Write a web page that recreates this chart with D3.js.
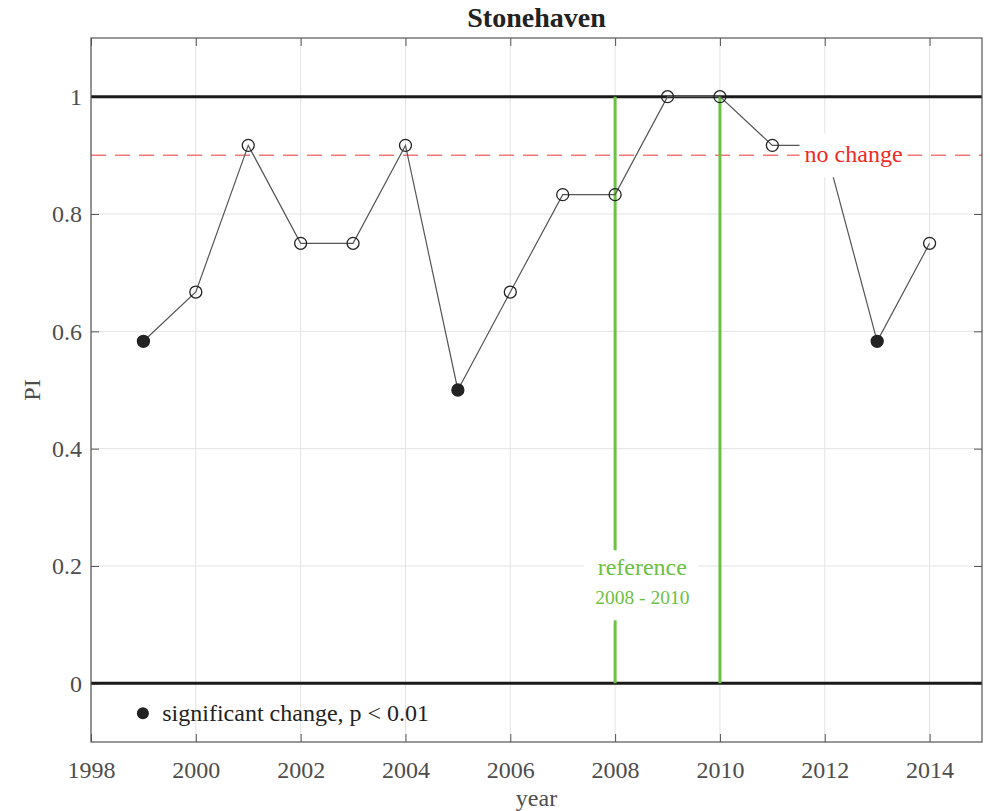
<!DOCTYPE html>
<html>
<head>
<meta charset="utf-8">
<script src="https://cdn.jsdelivr.net/npm/d3@7"></script>
<style>
  body { margin: 0; background: #fff; }
  svg text { font-family: "Liberation Serif", "DejaVu Serif", serif; }
</style>
</head>
<body>
<div id="chart"></div>
<script>
// Data.
const years = [1999, 2000, 2001, 2002, 2003, 2004, 2005, 2006, 2007, 2008, 2009, 2010, 2011, 2012, 2013, 2014];
const piValues = [0.583, 0.667, 0.917, 0.75, 0.75, 0.917, 0.5, 0.667, 0.833, 0.833, 1.0, 1.0, 0.917, 0.917, 0.583, 0.75];
const significant = [true, false, false, false, false, false, true, false, false, false, false, false, false, false, true, false];
const xTicks = [1998, 2000, 2002, 2004, 2006, 2008, 2010, 2012, 2014];
const yTicks = [0, 0.2, 0.4, 0.6, 0.8, 1];
const referenceYears = [2008, 2010];
const noChangeLevel = 0.9;

const width = 990, height = 811;
const margin = {top: 38, right: 8, bottom: 69, left: 91};
const w = width - margin.left - margin.right;
const h = height - margin.top - margin.bottom;

const svg = d3.select('#chart')
    .append('svg')
        .attr('width', width)
        .attr('height', height);
const g = svg.append('g')
    .attr('transform', `translate(${margin.left},${margin.top})`);

const x = d3.scaleLinear().domain([1998, 2015]).range([0, w]);
const y = d3.scaleLinear().domain([-0.1, 1.1]).range([h, 0]);

// Grid lines.
g.append('g').selectAll('line')
    .data(xTicks)
    .join('line')
        .attr('x1', d => x(d)).attr('x2', d => x(d))
        .attr('y1', 0).attr('y2', h)
        .attr('stroke', '#e3e3e3');
g.append('g').selectAll('line')
    .data(yTicks)
    .join('line')
        .attr('x1', 0).attr('x2', w)
        .attr('y1', d => y(d)).attr('y2', d => y(d))
        .attr('stroke', '#e3e3e3');

// Axes with inward ticks on all four sides.
const tickColor = '#555';
const axisStyle = (sel) => {
    sel.select('.domain').remove();
    sel.selectAll('line').attr('stroke', tickColor);
    sel.selectAll('text')
        .style('font-size', '24px')
        .attr('fill', '#4d4d4d');
};
g.append('g')
    .attr('transform', `translate(0,${h})`)
    .call(d3.axisBottom(x).tickValues(xTicks).tickFormat(d3.format('d')).tickSizeInner(-8).tickPadding(19))
    .call(axisStyle);
g.append('g')
    .call(d3.axisTop(x).tickValues(xTicks).tickSizeInner(-8).tickFormat(''))
    .call(axisStyle);
g.append('g')
    .call(d3.axisLeft(y).tickValues(yTicks).tickFormat(d => d).tickSizeInner(-8).tickPadding(9))
    .call(axisStyle);
g.append('g')
    .attr('transform', `translate(${w},0)`)
    .call(d3.axisRight(y).tickValues(yTicks).tickSizeInner(-8).tickFormat(''))
    .call(axisStyle);

// Reference lines at 0 and 1.
g.append('g').selectAll('line')
    .data([0, 1])
    .join('line')
        .attr('x1', 0).attr('x2', w)
        .attr('y1', d => y(d)).attr('y2', d => y(d))
        .attr('stroke', '#1a1a1a')
        .attr('stroke-width', 3);

// No-change dashed line.
g.append('line')
    .attr('x1', 0).attr('x2', w)
    .attr('y1', y(noChangeLevel)).attr('y2', y(noChangeLevel))
    .attr('stroke', '#f27878')
    .attr('stroke-width', 1.5)
    .attr('stroke-dasharray', '15,9');

// Reference period lines.
g.append('g').selectAll('line')
    .data(referenceYears)
    .join('line')
        .attr('x1', d => x(d)).attr('x2', d => x(d))
        .attr('y1', y(1)).attr('y2', y(0))
        .attr('stroke', '#6cc043')
        .attr('stroke-width', 3);

// Series line and markers.
const points = years.map((yr, i) => ({year: yr, value: piValues[i], sig: significant[i]}));
g.append('path')
    .datum(points)
    .attr('fill', 'none')
    .attr('stroke', '#555')
    .attr('stroke-width', 1.2)
    .attr('d', d3.line().x(d => x(d.year)).y(d => y(d.value)));
g.append('g').selectAll('circle')
    .data(points)
    .join('circle')
        .attr('cx', d => x(d.year))
        .attr('cy', d => y(d.value))
        .attr('r', 6)
        .attr('fill', d => d.sig ? '#222' : 'none')
        .attr('stroke', '#222')
        .attr('stroke-width', 1.3);

// "no change" label on a white box.
const ncX = x(2012.55), ncY = y(noChangeLevel);
g.append('rect')
    .attr('x', ncX - 54).attr('y', ncY - 22)
    .attr('width', 108).attr('height', 44)
    .attr('fill', '#fff');
g.append('text')
    .attr('x', ncX).attr('y', ncY + 7)
    .attr('text-anchor', 'middle')
    .attr('fill', '#ee2a24')
    .style('font-size', '24px')
    .text('no change');

// Reference period label on a white box.
const refX = x(2008.5), refY = y(0.15);
g.append('rect')
    .attr('x', refX - 57).attr('y', refY - 45)
    .attr('width', 114).attr('height', 70)
    .attr('fill', '#fff');
g.append('text')
    .attr('x', refX + 1).attr('y', y(0.2) + 9)
    .attr('text-anchor', 'middle')
    .attr('fill', '#6cc043')
    .style('font-size', '24px')
    .text('reference');
g.append('text')
    .attr('x', refX + 1).attr('y', y(0.15) + 9)
    .attr('text-anchor', 'middle')
    .attr('fill', '#6cc043')
    .style('font-size', '19.5px')
    .text(`${referenceYears[0]} - ${referenceYears[1]}`);

// Legend.
g.append('circle')
    .attr('cx', x(1998.99)).attr('cy', y(-0.051))
    .attr('r', 6)
    .attr('fill', '#222');
g.append('text')
    .attr('x', x(1999.36)).attr('y', y(-0.051) + 8)
    .attr('fill', '#222')
    .style('font-size', '24px')
    .text('significant change, p < 0.01');

// Plot box.
g.append('rect')
    .attr('width', w).attr('height', h)
    .attr('fill', 'none')
    .attr('stroke', '#555')
    .attr('stroke-width', 1.2);

// Title and axis labels.
svg.append('text')
    .attr('x', margin.left + w / 2).attr('y', 27)
    .attr('text-anchor', 'middle')
    .attr('fill', '#222')
    .style('font-size', '28px')
    .style('font-weight', 'bold')
    .text('Stonehaven');
svg.append('text')
    .attr('x', margin.left + w / 2).attr('y', 806)
    .attr('text-anchor', 'middle')
    .attr('fill', '#4d4d4d')
    .style('font-size', '24px')
    .text('year');
svg.append('text')
    .attr('transform', `translate(40,${margin.top + h / 2}) rotate(-90)`)
    .attr('text-anchor', 'middle')
    .attr('fill', '#4d4d4d')
    .style('font-size', '24px')
    .text('PI');
</script>
</body>
</html>
